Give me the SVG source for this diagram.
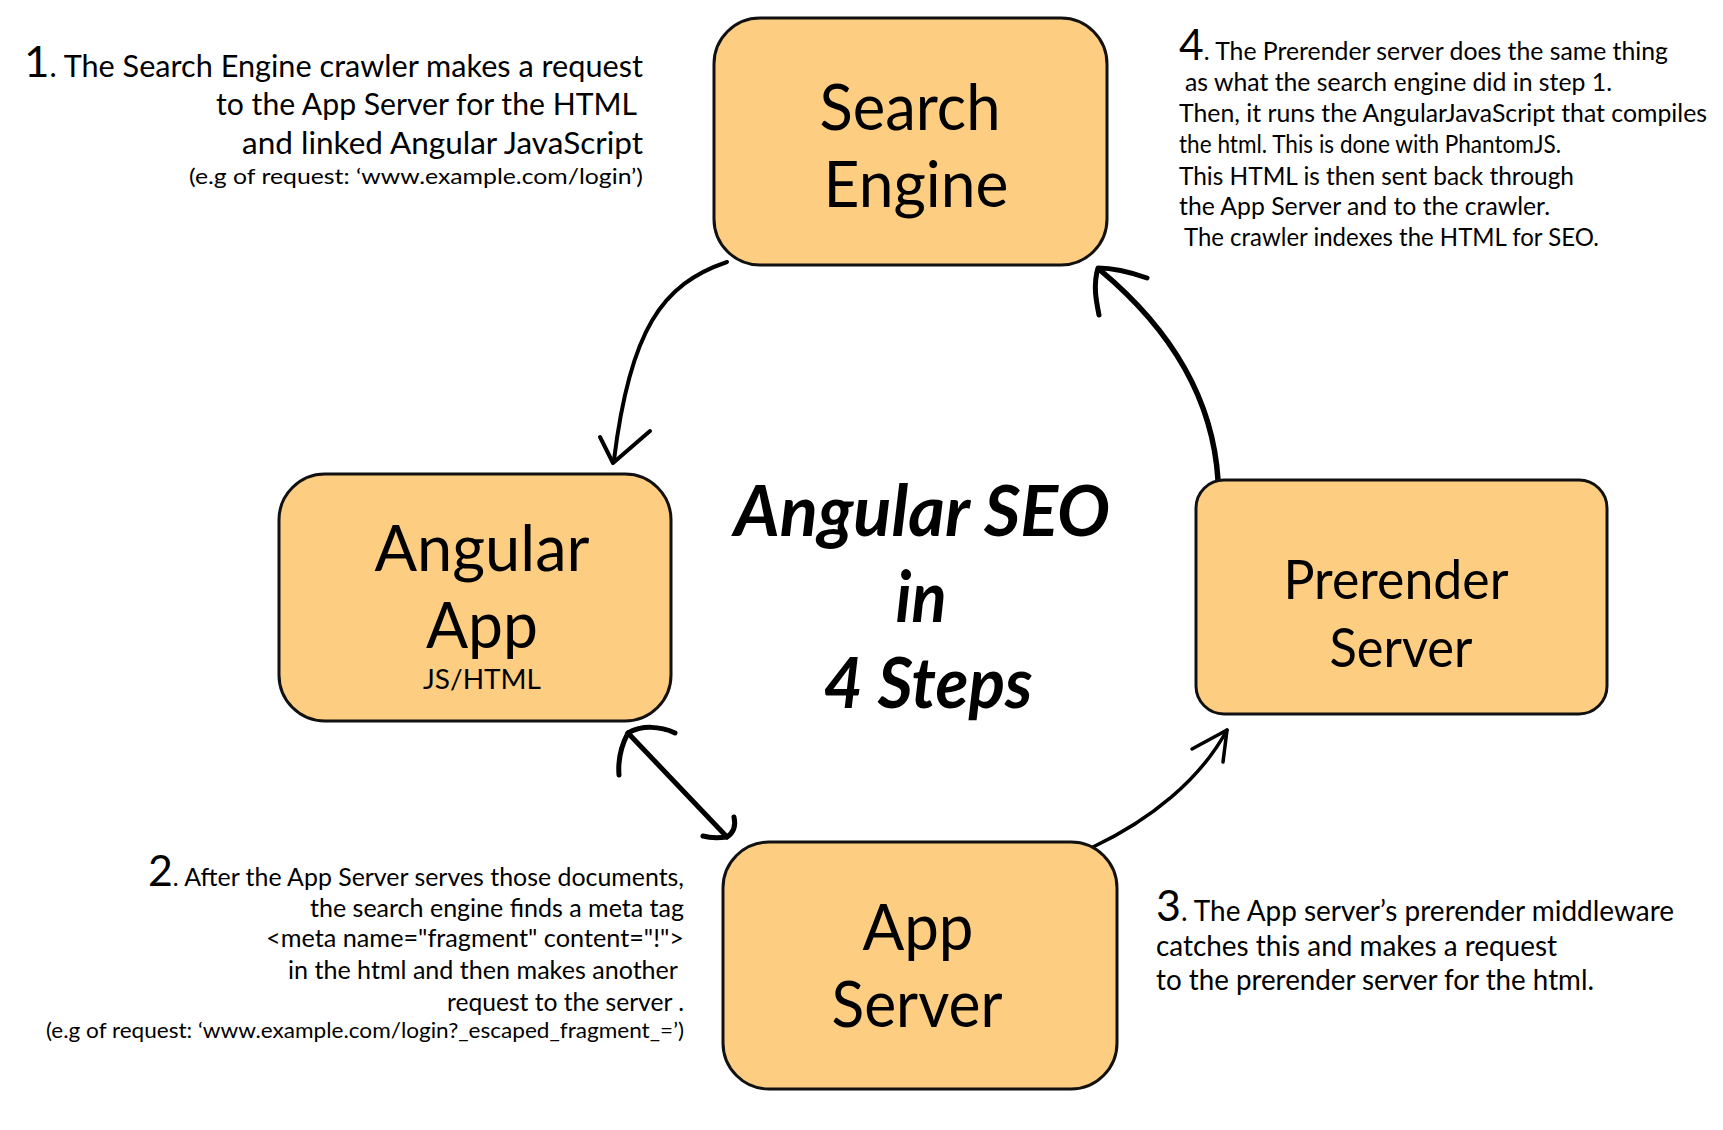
<svg xmlns="http://www.w3.org/2000/svg" width="1723" height="1130" viewBox="0 0 1723 1130">
<style>
.box{fill:#FDCE82;stroke:#111;stroke-width:3}
.lbl{font-family:Lato,"Open Sans","Liberation Sans",sans-serif;fill:#000;text-anchor:middle}
.title{font-family:Lato,"Open Sans","Liberation Sans",sans-serif;font-weight:bold;font-style:italic;fill:#000;text-anchor:middle;font-size:70px}
.t{font-family:Lato,"Open Sans","Liberation Sans",sans-serif;fill:#000}
.d{font-size:43px}
.c{fill:none;stroke:#000;stroke-linecap:round;stroke-linejoin:round}
</style>
<rect width="1723" height="1130" fill="#fff"/>
<g id="connectors">
<path class="c" stroke-width="4" d="M727,262 C662,284 630,330 614,460"/>
<path class="c" stroke-width="4" d="M600,437 L613,463 L650,431"/>
<path class="c" stroke-width="5.5" d="M1218,480 C1213,400 1172,330 1100,270"/>
<path class="c" stroke-width="5" d="M1147,278 C1130,272 1112,268 1098,268 C1093,285 1096,300 1099,315"/>
<path class="c" stroke-width="5" d="M628,733 L727,837"/>
<path class="c" stroke-width="5" d="M675,733 C660,726 642,725 628,733 C620,748 618,762 619,775"/>
<path class="c" stroke-width="5" d="M734,817 C736,826 733,833 727,837 C718,838 710,838 703,836"/>
<path class="c" stroke-width="3.5" d="M1093,847 C1150,820 1200,780 1227,730"/>
<path class="c" stroke-width="3.5" d="M1192,749 L1227,730 L1223,762"/>
</g>
<g id="search-engine">
<rect class="box" x="714" y="18" width="393" height="247" rx="46"/>
<text class="lbl" x="910" y="130" font-size="64" textLength="181" lengthAdjust="spacingAndGlyphs">Search</text>
<text class="lbl" x="916" y="207" font-size="64" textLength="185" lengthAdjust="spacingAndGlyphs">Engine</text>
</g>
<g id="angular-app">
<rect class="box" x="279" y="474" width="392" height="247" rx="46"/>
<text class="lbl" x="482" y="571" font-size="64" textLength="215" lengthAdjust="spacingAndGlyphs">Angular</text>
<text class="lbl" x="482" y="648" font-size="64" textLength="112" lengthAdjust="spacingAndGlyphs">App</text>
<text class="lbl" x="482" y="689" font-size="26" textLength="118" lengthAdjust="spacingAndGlyphs">JS/HTML</text>
</g>
<g id="prerender-server">
<rect class="box" x="1196" y="480" width="411" height="234" rx="28"/>
<text class="lbl" x="1396" y="599" font-size="54" textLength="225" lengthAdjust="spacingAndGlyphs">Prerender</text>
<text class="lbl" x="1401" y="667" font-size="54" textLength="143" lengthAdjust="spacingAndGlyphs">Server</text>
</g>
<g id="app-server">
<rect class="box" x="723" y="842" width="394" height="247" rx="46"/>
<text class="lbl" x="918" y="950" font-size="64" textLength="111" lengthAdjust="spacingAndGlyphs">App</text>
<text class="lbl" x="917" y="1027" font-size="64" textLength="171" lengthAdjust="spacingAndGlyphs">Server</text>
</g>
<g id="title">
<text class="title" x="922" y="536" textLength="376" lengthAdjust="spacingAndGlyphs">Angular SEO</text>
<text class="title" x="921" y="622" textLength="51" lengthAdjust="spacingAndGlyphs">in</text>
<text class="title" x="928" y="708" textLength="209" lengthAdjust="spacingAndGlyphs">4 Steps</text>
</g>
<g id="step1" class="t" text-anchor="end">
<text x="643" y="77" font-size="30" textLength="619" lengthAdjust="spacingAndGlyphs"><tspan class="d">1</tspan>. The Search Engine crawler makes a request</text>
<text x="637" y="115" font-size="30" textLength="421" lengthAdjust="spacingAndGlyphs">to the App Server for the HTML</text>
<text x="643" y="154" font-size="30" textLength="401" lengthAdjust="spacingAndGlyphs">and linked Angular JavaScript</text>
<text x="643" y="184" font-size="22" textLength="454" lengthAdjust="spacingAndGlyphs">(e.g of request: ‘www.example.com/login’)</text>
</g>
<g id="step4" class="t">
<text x="1179" y="60" font-size="25" textLength="489" lengthAdjust="spacingAndGlyphs"><tspan class="d">4</tspan>. The Prerender server does the same thing</text>
<text x="1185" y="91" font-size="25" textLength="427" lengthAdjust="spacingAndGlyphs">as what the search engine did in step 1.</text>
<text x="1179" y="122" font-size="25" textLength="528" lengthAdjust="spacingAndGlyphs">Then, it runs the AngularJavaScript that compiles</text>
<text x="1179" y="153" font-size="25" textLength="382" lengthAdjust="spacingAndGlyphs">the html. This is done with PhantomJS.</text>
<text x="1179" y="185" font-size="25" textLength="395" lengthAdjust="spacingAndGlyphs">This HTML is then sent back through</text>
<text x="1179" y="215" font-size="25" textLength="371" lengthAdjust="spacingAndGlyphs">the App Server and to the crawler.</text>
<text x="1184" y="246" font-size="25" textLength="415" lengthAdjust="spacingAndGlyphs">The crawler indexes the HTML for SEO.</text>
</g>
<g id="step2" class="t" text-anchor="end">
<text x="684" y="886" font-size="25" textLength="536" lengthAdjust="spacingAndGlyphs"><tspan class="d">2</tspan>. After the App Server serves those documents,</text>
<text x="684" y="917" font-size="25" textLength="374" lengthAdjust="spacingAndGlyphs">the search engine finds a meta tag</text>
<text x="684" y="947" font-size="25" textLength="418" lengthAdjust="spacingAndGlyphs">&lt;meta name="fragment" content="!"&gt;</text>
<text x="678" y="979" font-size="25" textLength="390" lengthAdjust="spacingAndGlyphs">in the html and then makes another</text>
<text x="684" y="1011" font-size="25" textLength="237" lengthAdjust="spacingAndGlyphs">request to the server .</text>
<text x="684" y="1038" font-size="21" textLength="638" lengthAdjust="spacingAndGlyphs">(e.g  of  request: ‘www.example.com/login?_escaped_fragment_=’)</text>
</g>
<g id="step3" class="t">
<text x="1156" y="921" font-size="28" textLength="518" lengthAdjust="spacingAndGlyphs"><tspan class="d">3</tspan>. The App server’s prerender middleware</text>
<text x="1156" y="956" font-size="28" textLength="401" lengthAdjust="spacingAndGlyphs">catches this and makes a request</text>
<text x="1156" y="990" font-size="28" textLength="438" lengthAdjust="spacingAndGlyphs">to the prerender server for the html.</text>
</g>
</svg>
